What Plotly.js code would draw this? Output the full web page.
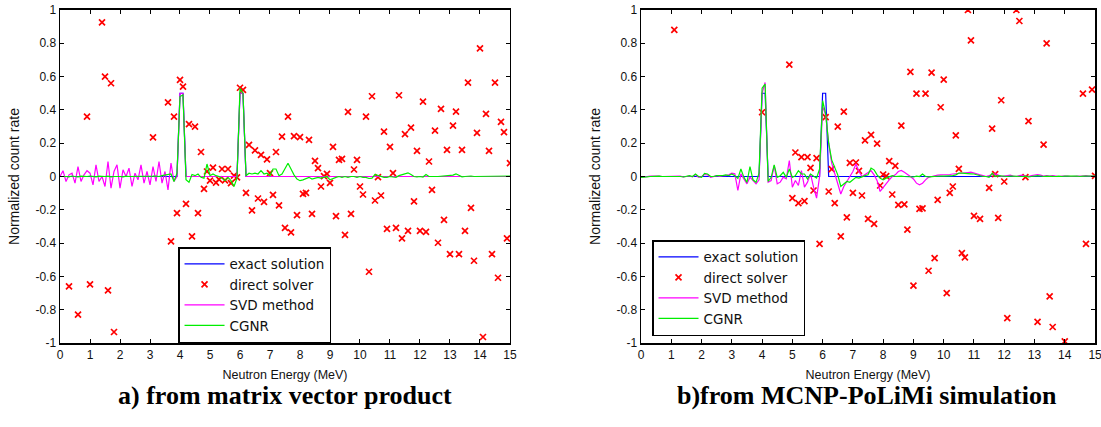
<!DOCTYPE html>
<html>
<head>
<meta charset="utf-8">
<script src="https://cdn.plot.ly/plotly-3.0.1.min.js"></script>
<style>html,body{margin:0;padding:0;background:#fff;}#chart{width:1101px;height:427px;}</style>
</head>
<body>
<div id="chart"></div>
<script>
// Energy grid (MeV)
const energy = [
 0.0,0.1,0.2,0.3,0.4,0.5,0.6,0.7,0.8,0.9,
 1.0,1.1,1.2,1.3,1.4,1.5,1.6,1.7,1.8,1.9,
 2.0,2.1,2.2,2.3,2.4,2.5,2.6,2.7,2.8,2.9,
 3.0,3.1,3.2,3.3,3.4,3.5,3.6,3.7,3.8,3.9,
 4.0,4.1,4.2,4.3,4.4,4.5,4.6,4.7,4.8,4.9,
 5.0,5.1,5.2,5.3,5.4,5.5,5.6,5.7,5.8,5.9,
 6.0,6.1,6.2,6.3,6.4,6.5,6.6,6.7,6.8,6.9,
 7.0,7.1,7.2,7.3,7.4,7.5,7.6,7.7,7.8,7.9,
 8.0,8.1,8.2,8.3,8.4,8.5,8.6,8.7,8.8,8.9,
 9.0,9.1,9.2,9.3,9.4,9.5,9.6,9.7,9.8,9.9,
 10.0,10.1,10.2,10.3,10.4,10.5,10.6,10.7,10.8,10.9,
 11.0,11.1,11.2,11.3,11.4,11.5,11.6,11.7,11.8,11.9,
 12.0,12.1,12.2,12.3,12.4,12.5,12.6,12.7,12.8,12.9,
 13.0,13.1,13.2,13.3,13.4,13.5,13.6,13.7,13.8,13.9,
 14.0,14.1,14.2,14.3,14.4,14.5,14.6,14.7,14.8,14.9,
 15.0];

// exact solution (same in both panels)
const exactSolution = [
 0,0,0,0,0,0,0,0,0,0, 0,0,0,0,0,0,0,0,0,0,
 0,0,0,0,0,0,0,0,0,0, 0,0,0,0,0,0,0,0,0,0,
 0.5,0.5,0,0,0,0,0,0,0,0, 0,0,0,0,0,0,0,0,0,0,
 0.5,0.5,0,0,0,0,0,0,0,0, 0,0,0,0,0,0,0,0,0,0,
 0,0,0,0,0,0,0,0,0,0, 0,0,0,0,0,0,0,0,0,0,
 0,0,0,0,0,0,0,0,0,0, 0,0,0,0,0,0,0,0,0,0,
 0,0,0,0,0,0,0,0,0,0, 0,0,0,0,0,0,0,0,0,0,
 0,0,0,0,0,0,0,0,0,0, 0];

// Panel a) SVD method
const svdA = [
 0.0,0.035,-0.03,0.01,0.02,-0.04,0.06,-0.03,0.01,0.035,
 0.02,-0.05,0.07,-0.03,0.0,-0.06,0.09,-0.07,0.03,0.07,
 -0.07,0.04,0.0,0.05,-0.06,0.02,-0.02,0.07,-0.04,0.03,
 -0.05,0.06,-0.03,0.09,-0.04,0.03,-0.08,0.08,-0.03,0.0,
 0.5,0.5,0,0,0,0,0,0,0,0, 0,0,0,0,0,0,0,0,0,0,
 0.5,0.5,0,0,0,0,0,0,0,0, 0,0,0,0,0,0,0,0,0,0,
 0,0,0,0,0,0,0,0,0,0, 0,0,0,0,0,0,0,0,0,0,
 0,0,0,0,0,0,0,0,0,0, 0,0,0,0,0,0,0,0,0,0,
 0,0,0,0,0,0,0,0,0,0, 0,0,0,0,0,0,0,0,0,0,
 0,0,0,0,0,0,0,0,0,0, 0];

// Panel a) CGNR
const cgnrA = [
 0.0,0.002,0.0,-0.002,0.003,0.0,-0.002,0.002,0.0,0.0,
 0.003,0.0,-0.002,0.002,0.0,0.0,0.002,-0.002,0.0,0.002,
 0.0,-0.002,0.002,0.0,0.0,0.002,-0.002,0.0,0.002,0.0,
 -0.002,0.002,0.003,0.0,0.005,0.008,0.01,0.015,-0.03,0.02,
 0.48,0.49,-0.02,-0.035,0.012,0.005,0.015,-0.005,-0.01,0.075,
 0.005,0.015,0.005,0.0,-0.01,-0.025,-0.005,-0.025,-0.06,-0.01,
 0.53,0.5,0.005,0.02,0.015,0.02,0.015,0.035,0.015,0.02,
 0.005,0.045,0.045,0.005,0.015,0.045,0.08,0.045,0.01,-0.015,
 -0.025,-0.02,-0.01,-0.005,-0.015,-0.01,-0.005,-0.01,-0.005,0.0,
 -0.02,-0.01,-0.005,0.0,-0.005,0.0,-0.005,0.0,0.0,-0.005,
 0.0,-0.005,-0.005,-0.012,-0.01,0.012,0.005,0.0,-0.005,-0.005,
 0.0,-0.003,-0.005,0.005,0.01,0.015,0.022,0.012,0.0,-0.002,
 0.0,-0.003,0.012,0.0,-0.002,0.0,0.0,0.002,0.003,0.005,
 0.005,0.008,0.016,0.005,-0.002,0.0,0.002,0.003,0.0,0.0,
 0.002,0.0,0.003,0.002,0.0,0.002,0.0,0.003,0.002,0.003,
 0.003];

// Panel a) direct solver (visible points only)
const directA_E = [0.3,0.6,0.9,1.0,1.4,1.5,1.6,1.7,1.8,3.1,3.6,3.7,3.8,3.9,
 4.0,4.1,4.2,4.3,4.4,4.5,4.6,4.7,4.8,4.9,5.0,5.1,5.2,5.3,5.4,5.5,5.6,5.7,5.8,5.9,
 6.0,6.1,6.2,6.3,6.4,6.5,6.6,6.7,6.8,6.9,7.0,7.1,7.2,7.3,7.4,7.5,7.6,7.7,7.8,7.9,
 8.0,8.1,8.2,8.3,8.4,8.5,8.6,8.7,8.8,8.9,9.0,9.1,9.2,9.3,9.4,9.5,9.6,9.7,9.8,9.9,
 10.0,10.1,10.2,10.3,10.4,10.5,10.6,10.7,10.8,10.9,11.0,11.1,11.2,11.3,11.4,11.5,11.6,11.7,11.8,11.9,
 12.0,12.1,12.2,12.3,12.4,12.5,12.6,12.7,12.8,12.9,13.0,13.1,13.2,13.3,13.4,13.5,13.6,13.7,13.8,13.9,
 14.0,14.1,14.2,14.3,14.4,14.5,14.6,14.7,14.8,14.9,15.0];
const directA_V = [-0.66,-0.83,0.36,-0.648,0.926,0.60,-0.684,0.56,-0.934,0.235,0.445,-0.39,0.36,-0.22,
 0.58,0.54,-0.164,0.315,-0.36,0.30,-0.22,0.147,-0.074,0.03,-0.025,0.053,-0.037,-0.017,0.045,-0.023,0.045,-0.04,0.005,-0.005,
 0.533,0.52,-0.098,0.19,-0.204,0.157,-0.132,0.13,-0.152,0.103,0.02,-0.11,0.147,-0.174,0.24,-0.308,0.36,-0.336,0.242,-0.232,
 0.236,-0.104,-0.098,0.22,-0.224,0.094,0.05,-0.06,0.002,0.016,-0.038,0.178,-0.238,0.1,0.106,-0.35,0.388,-0.224,0.042,0.1,
 -0.06,-0.108,0.36,-0.572,0.482,-0.144,-0.004,-0.114,0.27,-0.314,0.178,0.02,-0.308,0.488,-0.372,0.254,-0.326,0.294,-0.15,0.154,
 -0.326,0.45,-0.332,0.09,-0.08,0.276,-0.398,0.406,-0.26,0.16,-0.466,0.306,0.39,-0.466,0.16,-0.326,0.564,-0.188,-0.506,0.262,
 0.77,-0.964,0.376,0.154,-0.466,0.564,-0.608,0.328,0.266,-0.372,0.08];

// Panel b) SVD method
const svdB = [
 -0.003,-0.003,0.0,0.002,0.003,0.003,0.002,0.0,0.0,0.002,
 0.0,0.0,0.002,0.003,-0.003,0.0,0.003,-0.002,0.012,-0.005,
 0.0,0.012,0.01,-0.005,0.0,0.005,0.0,0.005,0.005,0.01,
 0.02,0.016,-0.084,0.016,-0.014,-0.044,-0.004,-0.024,-0.044,-0.02,
 0.5,0.565,-0.034,-0.024,0.066,-0.044,-0.034,-0.004,-0.014,0.096,
 -0.064,-0.024,-0.054,0.036,-0.064,-0.034,0.016,-0.064,-0.13,0.0,
 0.42,0.37,0.2,0.08,0.02,-0.03,-0.105,-0.06,-0.03,-0.005,
 0.03,0.075,0.03,0.0,0.01,0.02,0.035,0.01,-0.025,-0.09,
 -0.065,-0.04,-0.02,0.0,0.01,0.03,0.036,0.025,0.015,0.0,
 -0.015,-0.04,-0.05,-0.04,-0.02,-0.005,0.0,0.005,0.008,0.01,
 0.01,0.01,0.012,0.015,0.016,0.018,0.02,0.022,0.024,0.026,
 0.02,0.012,0.01,0.005,0.0,0.005,0.012,0.016,0.008,0.0,
 0.003,0.005,0.008,0.003,0.0,0.005,0.008,0.003,0.0,0.005,
 0.008,0.012,0.008,0.003,0.005,0.002,0.005,0.003,0.0,0.003,
 0.005,0.003,0.0,0.002,0.005,0.003,0.002,0.005,0.003,0.002,
 0.003];

// Panel b) CGNR
const cgnrB = [
 -0.005,-0.005,-0.002,0.0,0.002,0.003,0.002,0.0,0.0,0.002,
 0.0,0.0,0.003,0.0,-0.003,0.0,0.005,0.0,0.015,0.0,
 -0.005,0.018,0.015,0.0,0.0,0.005,0.003,0.005,0.01,0.005,
 0.015,0.005,-0.012,0.045,-0.005,-0.035,0.06,-0.02,-0.035,0.02,
 0.53,0.555,-0.03,-0.005,0.07,-0.005,0.005,0.025,-0.005,0.045,
 -0.005,0.005,0.035,0.015,0.015,-0.015,0.015,0.005,-0.01,0.045,
 0.455,0.376,0.2,0.1,0.05,0.01,-0.06,-0.045,-0.03,-0.035,
 -0.02,-0.005,-0.01,0.0,0.005,0.01,0.05,0.04,0.01,-0.01,
 -0.02,-0.01,0.0,0.005,0.0,0.003,0.002,0.0,0.0,-0.002,
 -0.003,0.002,0.0,0.015,0.0,-0.002,0.0,0.002,0.003,0.003,
 0.002,0.002,0.003,0.005,0.01,0.02,0.02,0.02,0.016,0.016,
 0.015,0.01,0.005,0.0,0.0,-0.005,0.02,0.0,0.005,0.002,
 0.0,0.0,0.003,0.002,0.0,0.003,0.0,0.002,-0.002,0.0,
 0.003,0.005,0.003,0.0,0.002,0.0,-0.002,0.0,0.002,0.0,
 0.003,0.002,0.0,0.002,0.003,0.0,0.002,0.003,0.002,0.003,
 0.003];

// Panel b) direct solver (visible points only)
const directB_E = [1.1,4.0,4.9,5.0,5.1,5.2,5.3,5.4,5.5,5.6,5.7,5.8,5.9,
 6.1,6.2,6.3,6.4,6.5,6.6,6.7,6.8,6.9,7.0,7.1,7.2,7.3,7.4,7.5,7.6,7.7,7.8,7.9,
 8.0,8.1,8.2,8.3,8.4,8.5,8.6,8.7,8.8,8.9,9.0,9.1,9.2,9.3,9.4,9.5,9.6,9.7,9.8,9.9,
 10.0,10.1,10.2,10.3,10.4,10.5,10.6,10.7,10.8,10.9,11.0,11.2,11.5,11.6,11.7,11.8,11.9,
 12.0,12.1,12.4,12.5,12.7,12.8,13.1,13.3,13.4,13.5,13.6,14.0,14.6,14.7,14.9,15.0];
const directB_V = [0.88,0.386,0.672,-0.13,0.144,-0.16,0.116,-0.148,0.116,0.052,-0.084,0.11,-0.405,
 0.357,-0.09,0.044,-0.16,0.3,-0.36,0.39,-0.245,0.082,-0.098,0.084,0.034,-0.114,0.217,-0.255,0.25,-0.285,0.197,-0.054,
 0.012,0.002,0.092,-0.108,0.064,-0.17,0.305,-0.167,-0.319,0.628,-0.655,0.498,-0.195,-0.191,0.498,-0.566,0.624,-0.49,-0.14,0.416,
 0.582,-0.7,-0.098,-0.06,0.247,0.046,-0.46,-0.486,1.0,0.817,-0.237,-0.255,-0.068,0.287,0.014,-0.249,0.458,
 -0.03,-0.85,1.0,0.934,-0.004,0.333,-0.873,0.191,0.8,-0.72,-0.904,-0.99,0.498,-0.405,0.522,0.004];

const seriesNames = ["exact solution","direct solver","SVD method","CGNR"];
const xTicks = [0,1,2,3,4,5,6,7,8,9,10,11,12,13,14,15];
const yTickVals = [-1,-0.8,-0.6,-0.4,-0.2,0,0.2,0.4,0.6,0.8,1];
const yTickText = ["-1","-0.8","-0.6","-0.4","-0.2","0","0.2","0.4","0.6","0.8","1"];
const xTitle = "Neutron Energy (MeV)";
const yTitle = "Normalized count rate";
const captions = ["a) from matrix vector product","b)from MCNP-PoLiMi simulation"];

const colors = {exact:"#0000ff", direct:"#ff0000", svd:"#ff00ff", cgnr:"#00ee00"};

function panel(xa, ya, leg, svd, cgnr, dE, dV){
  return [
    {x:energy, y:exactSolution, xaxis:xa, yaxis:ya, legend:leg, name:seriesNames[0], type:"scatter", mode:"lines", line:{color:colors.exact, width:1.2}},
    {x:dE, y:dV, xaxis:xa, yaxis:ya, legend:leg, name:seriesNames[1], type:"scatter", mode:"markers", cliponaxis:true,
      marker:{symbol:"x-thin", size:6, color:colors.direct, line:{color:colors.direct, width:1.7}}},
    {x:energy, y:svd, xaxis:xa, yaxis:ya, legend:leg, name:seriesNames[2], type:"scatter", mode:"lines", line:{color:colors.svd, width:1.2}},
    {x:energy, y:cgnr, xaxis:xa, yaxis:ya, legend:leg, name:seriesNames[3], type:"scatter", mode:"lines", line:{color:colors.cgnr, width:1.2}}
  ];
}

const data = [].concat(
  panel("x","y","legend", svdA, cgnrA, directA_E, directA_V),
  panel("x2","y2","legend2", svdB, cgnrB, directB_E, directB_V)
);

const font = "Liberation Sans, Arial, sans-serif";
function xaxisDef(domain, anchor){
  return {domain:domain, anchor:anchor, range:[0,15], tickvals:xTicks, ticks:"inside", ticklen:4, tickwidth:1,
    tickcolor:"#000", mirror:"ticks", showline:true, linecolor:"#000", linewidth:1.5, showgrid:false, zeroline:false,
    ticklabeloverflow:"allow",
    tickfont:{family:font, size:12, color:"#111"},
    title:{text:xTitle, font:{family:font, size:12.5, color:"#111"}, standoff:9}};
}
function yaxisDef(domain, anchor){
  return {domain:domain, anchor:anchor, range:[-1,1], tickvals:yTickVals, ticktext:yTickText, ticks:"inside", ticklen:4, tickwidth:1,
    tickcolor:"#000", mirror:"ticks", showline:true, linecolor:"#000", linewidth:1.5, showgrid:false, zeroline:false,
    ticklabeloverflow:"allow",
    tickfont:{family:font, size:12, color:"#111"},
    title:{text:yTitle, font:{family:font, size:14, color:"#111"}, standoff:12}};
}
const yDom = [0.1967, 0.9766];
const legendStyle = {bgcolor:"#fff", bordercolor:"#000", borderwidth:1.5, font:{family:"DejaVu Sans, sans-serif", size:13.5, color:"#111"},
  xanchor:"left", yanchor:"top", tracegroupgap:0, itemwidth:40};

const layout = {
  width:1101, height:427, margin:{l:0,r:0,t:0,b:0}, paper_bgcolor:"#fff", plot_bgcolor:"#fff",
  showlegend:true,
  xaxis:xaxisDef([0.0545,0.4632],"y"),
  yaxis:yaxisDef(yDom,"x"),
  xaxis2:xaxisDef([0.5822,0.9946],"y2"),
  yaxis2:yaxisDef(yDom,"x2"),
  legend:Object.assign({x:0.1617, y:0.4215}, legendStyle),
  legend2:Object.assign({x:0.5922, y:0.4379}, legendStyle),
  annotations:[
    {text:"<b>"+captions[0]+"</b>", xref:"paper", yref:"paper", x:0.259, y:0.0726, xanchor:"center", yanchor:"middle", showarrow:false,
     font:{family:"Liberation Serif, Times New Roman, serif", size:26, color:"#000"}},
    {text:"<b>"+captions[1]+"</b>", xref:"paper", yref:"paper", x:0.7875, y:0.0726, xanchor:"center", yanchor:"middle", showarrow:false,
     font:{family:"Liberation Serif, Times New Roman, serif", size:26, color:"#000"}}
  ]
};

Plotly.newPlot("chart", data, layout, {staticPlot:true, displayModeBar:false});
</script>
</body>
</html>
